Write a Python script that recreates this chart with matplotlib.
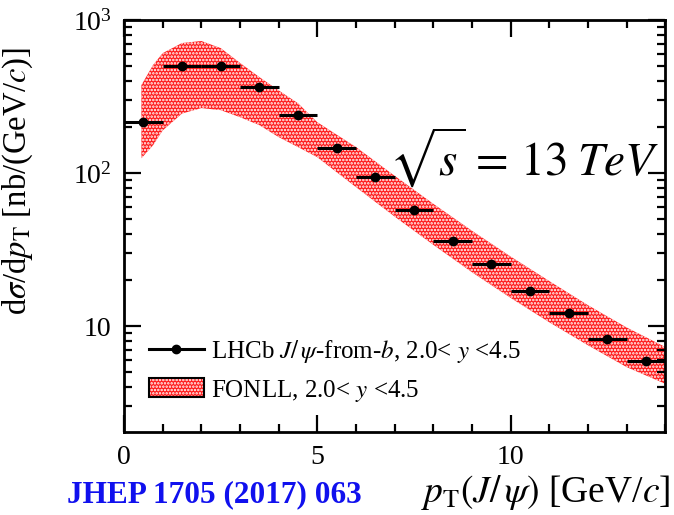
import numpy as np
import matplotlib
matplotlib.use("Agg")
import matplotlib.pyplot as plt
from matplotlib.patches import Patch
from matplotlib.lines import Line2D
from matplotlib.ticker import LogLocator, FixedLocator, NullFormatter, FuncFormatter

plt.rcParams['font.family'] = ['Liberation Serif', 'DejaVu Serif']
plt.rcParams['mathtext.fontset'] = 'stix'
plt.rcParams['hatch.linewidth'] = 1.2

# LHCb J/psi-from-b, 2.0 < y < 4.5 (bin centres, half widths, values)
pt = [0.5, 1.5, 2.5, 3.5, 4.5, 5.5, 6.5, 7.5, 8.5, 9.5, 10.5, 11.5, 12.5, 13.5]
pt_err = [0.5] * 14
xsec = [215, 500, 500, 365, 238, 146, 94, 57, 36, 25.4, 17, 12.2, 8.2, 5.9]

# FONLL uncertainty band
fonll_pt = [0.45, 0.75, 1.0, 1.5, 2.0, 2.5, 3.0, 3.5, 4.0, 4.5, 5.0,
            6.0, 7.0, 8.0, 9.0, 10.0, 11.0, 12.0, 13.0, 14.0]
fonll_lo = [125, 152, 190, 245, 266, 258, 232, 206, 172, 148, 127,
            81, 52, 34, 22.5, 15.3, 10.6, 7.5, 5.4, 4.2]
fonll_hi = [376, 508, 608, 708, 730, 656, 525, 424, 347, 286, 215,
            148, 96, 63, 42, 28.5, 19.7, 13.7, 9.8, 7.3]

fig = plt.figure(figsize=(6.74, 5.15), dpi=100)
ax = fig.add_axes([0.184, 0.161, 0.803, 0.800])

ax.fill_between(fonll_pt, fonll_lo, fonll_hi, facecolor='#ff1a1a',
                edgecolor='white', hatch='.....', linewidth=0, zorder=1)
ax.errorbar(pt, xsec, xerr=pt_err, fmt='o', color='black', ms=6,
            elinewidth=2.2, capsize=0, zorder=3)

ax.set_yscale('log')
ax.set_xlim(0, 14)
ax.set_ylim(2.03, 1000)

ax.xaxis.set_major_locator(FixedLocator([0, 5, 10]))
ax.xaxis.set_minor_locator(FixedLocator(np.arange(0, 15, 1)))
ax.yaxis.set_major_locator(LogLocator(base=10, numticks=10))
ax.yaxis.set_minor_locator(LogLocator(base=10, subs=np.arange(2, 10), numticks=10))
ax.yaxis.set_minor_formatter(NullFormatter())

def ylab(v, pos):
    if abs(v - 10) < 1e-6:
        return '10'
    return r'$\mathregular{10^{%d}}$' % round(np.log10(v))

ax.yaxis.set_major_formatter(FuncFormatter(ylab))

ax.tick_params(which='both', direction='in', top=True, right=True,
               labelsize=20, width=1.6, colors='black')
ax.tick_params(which='major', length=12, pad=9)
ax.tick_params(which='minor', length=6)
for s in ax.spines.values():
    s.set_linewidth(2.0)

ax.set_ylabel(r'd$\sigma$/d$p_{\rm T}$ [nb/(GeV/$c$)]', fontsize=23.5)
ax.yaxis.set_label_coords(-0.165, 0.61)
ax.set_xlabel(r'$p_{\rm T}(J/\,\psi)$ [GeV/$c$]', fontsize=27, loc='right')
ax.xaxis.set_label_coords(1.01, -0.1)

ax.text(0.49, 0.665, r'$\sqrt{s}\,=\,13\;TeV$', transform=ax.transAxes,
        fontsize=34, va='center', ha='left')

data_handle = Line2D([], [], color='black', lw=2.2, marker='o', ms=6)
band_handle = (Patch(facecolor='#ff1a1a', edgecolor='white', hatch='.....', lw=0),
               Patch(fill=False, edgecolor='black', lw=1.5))
ax.legend([data_handle, band_handle],
          [r'LHCb $J/\,\psi$-from-$b$, 2.0< $y$ <4.5', r'FONLL, 2.0< $y$ <4.5'],
          loc='lower left', bbox_to_anchor=(0.027, 0.045), frameon=False,
          fontsize=18, handlelength=2.2, handleheight=0.8, labelspacing=0.5,
          handletextpad=0.3, borderaxespad=0)

fig.text(67 / 674, 1 - 495 / 515, 'JHEP 1705 (2017) 063', color='#1010ee',
         fontsize=22.5, fontweight='bold', va='center', ha='left')

fig.savefig('out.png', dpi=100)
